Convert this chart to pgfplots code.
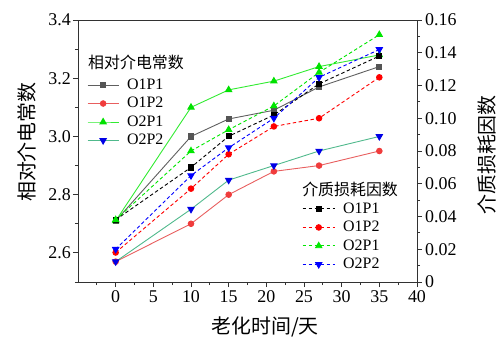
\documentclass[border=0pt]{standalone}
\usepackage{pgfplots}
\pgfplotsset{compat=1.18}
\usepackage{fontspec}
\setmainfont{Liberation Serif}
\newfontfamily\cjk{Noto Sans CJK SC}
\definecolor{cgray}{RGB}{95,95,95}
\definecolor{cgraym}{RGB}{85,85,85}
\definecolor{cred}{RGB}{232,95,95}
\definecolor{credm}{RGB}{240,60,60}
\definecolor{cgreen}{RGB}{50,235,50}
\definecolor{cgreenm}{RGB}{0,225,0}
\definecolor{cteal}{RGB}{80,185,140}
\definecolor{cbluem}{RGB}{0,0,230}
\definecolor{dblack}{RGB}{0,0,0}
\definecolor{dred}{RGB}{255,0,0}
\definecolor{dgreen}{RGB}{0,230,0}
\definecolor{dblue}{RGB}{0,0,255}
\definecolor{axc}{RGB}{50,50,50}
\pgfplotsset{
  common/.style={
    scale only axis, width=339bp, height=262bp,
    xmin=-5, xmax=40,
    tick align=outside,
    major tick length=5bp, minor tick length=3bp,
    axis line style={axc, line width=0.8bp},
    every tick/.style={axc, line width=0.8bp},
    /pgf/number format/assume math mode=true,
    tick label style={font=\fontsize{18}{18}\selectfont},
    legend cell align=left,
  },
  solidleg/.style={legend image code/.code={\draw[mark repeat=2,mark phase=2,##1] plot coordinates {(0bp,0bp)(15.5bp,0bp)(31bp,0bp)};}},
  dashleg/.style={legend image code/.code={\draw[mark repeat=2,mark phase=2,##1] plot coordinates {(0bp,0bp)(16bp,0bp)(32bp,0bp)};}},
  legsty/.style={draw=none, fill=none, inner sep=0pt, row sep=1bp, /tikz/column sep=7bp,
     font=\fontsize{16}{16}\selectfont,
     nodes={inner sep=1pt, text height=12bp, text depth=3.5bp}},
}
\begin{document}
\begin{tikzpicture}
\begin{axis}[common,
  ymin=2.5, ymax=3.4,
  xtick={0,5,...,40}, minor xtick={-2.5,2.5,7.5,12.5,17.5,22.5,27.5,32.5,37.5},
  xtick pos=bottom, ytick pos=left,
  ytick={2.6,2.8,3.0,3.2,3.4}, yticklabels={2.6,2.8,3.0,3.2,3.4},
  minor ytick={2.5,2.7,2.9,3.1,3.3},
  yticklabel style={inner sep=2bp},
  xlabel={\cjk 老化时间/天},
  ylabel={\cjk 相对介电常数},
  xlabel style={font=\fontsize{20}{20}\selectfont, at={(axis description cs:0.552,-0.172)}, anchor=center},
  ylabel style={font=\fontsize{20}{20}\selectfont, at={(axis description cs:-0.152,0.534)}, anchor=center, rotate=0},
  solidleg,
  legend style={legsty, at={(axis description cs:0.0265,0.786)}, anchor=north west},
]
\addplot[cgray, line width=0.9bp, mark=square*, mark size=2.6bp, mark options={cgraym}] coordinates {(0,2.71)(10,3.00)(15,3.06)(21,3.09)(27,3.17)(35,3.24)};
\addlegendentry{O1P1}
\addplot[cred, line width=0.9bp, mark=*, mark size=2.8bp, mark options={credm}] coordinates {(0,2.57)(10,2.70)(15,2.80)(21,2.88)(27,2.90)(35,2.95)};
\addlegendentry{O1P2}
\addplot[cgreen, line width=0.9bp, mark=triangle*, mark size=3.6bp, mark options={cgreenm}] coordinates {(0,2.71)(10,3.10)(15,3.16)(21,3.19)(27,3.24)(35,3.28)};
\addlegendentry{O2P1}
\addplot[cteal, line width=0.9bp, mark=triangle*, mark size=3.6bp, mark options={cbluem, rotate=180}] coordinates {(0,2.57)(10,2.75)(15,2.85)(21,2.90)(27,2.95)(35,3.00)};
\addlegendentry{O2P2}
\end{axis}
\begin{axis}[common,
  ymin=0, ymax=0.16,
  axis x line=none, axis y line*=right, ytick pos=right,
  ytick={0,0.02,0.04,0.06,0.08,0.10,0.12,0.14,0.16},
  yticklabels={0,0.02,0.04,0.06,0.08,0.10,0.12,0.14,0.16},
  minor ytick={0.01,0.03,0.05,0.07,0.09,0.11,0.13,0.15},
  yticklabel style={inner sep=3bp},
  ylabel={\cjk 介质损耗因数},
  ylabel style={font=\fontsize{20}{20}\selectfont, at={(axis description cs:1.206,0.485)}, anchor=center, rotate=0},
  dashleg,
  legend style={legsty, at={(axis description cs:0.661,0.313)}, anchor=north west},
]
\addplot[dblack, line width=0.9bp, dash pattern=on 3.5bp off 2.5bp, mark=square*, mark size=2.6bp, mark options={solid}] coordinates {(0,0.038)(10,0.070)(15,0.089)(21,0.102)(27,0.121)(35,0.138)};
\addlegendentry{O1P1}
\addplot[dred, line width=0.9bp, dash pattern=on 3.5bp off 2.5bp, mark=*, mark size=2.8bp, mark options={solid}] coordinates {(0,0.018)(10,0.057)(15,0.078)(21,0.095)(27,0.100)(35,0.125)};
\addlegendentry{O1P2}
\addplot[dgreen, line width=0.9bp, dash pattern=on 3.5bp off 2.5bp, mark=triangle*, mark size=3.6bp, mark options={solid}] coordinates {(0,0.038)(10,0.080)(15,0.093)(21,0.1075)(27,0.128)(35,0.151)};
\addlegendentry{O2P1}
\addplot[dblue, line width=0.9bp, dash pattern=on 3.5bp off 2.5bp, mark=triangle*, mark size=3.6bp, mark options={solid, rotate=180}] coordinates {(0,0.020)(10,0.065)(15,0.082)(21,0.100)(27,0.125)(35,0.142)};
\addlegendentry{O2P2}
\node[anchor=west, inner sep=0pt, font=\fontsize{16}{16}\selectfont\cjk] at (axis description cs:0.0295,0.84) {相对介电常数};
\node[anchor=west, inner sep=0pt, font=\fontsize{16}{16}\selectfont\cjk] at (axis description cs:0.661,0.355) {介质损耗因数};
\end{axis}
\pgfresetboundingbox
\useasboundingbox (-78bp,-55bp) rectangle (418bp,282bp);
\end{tikzpicture}
\end{document}
